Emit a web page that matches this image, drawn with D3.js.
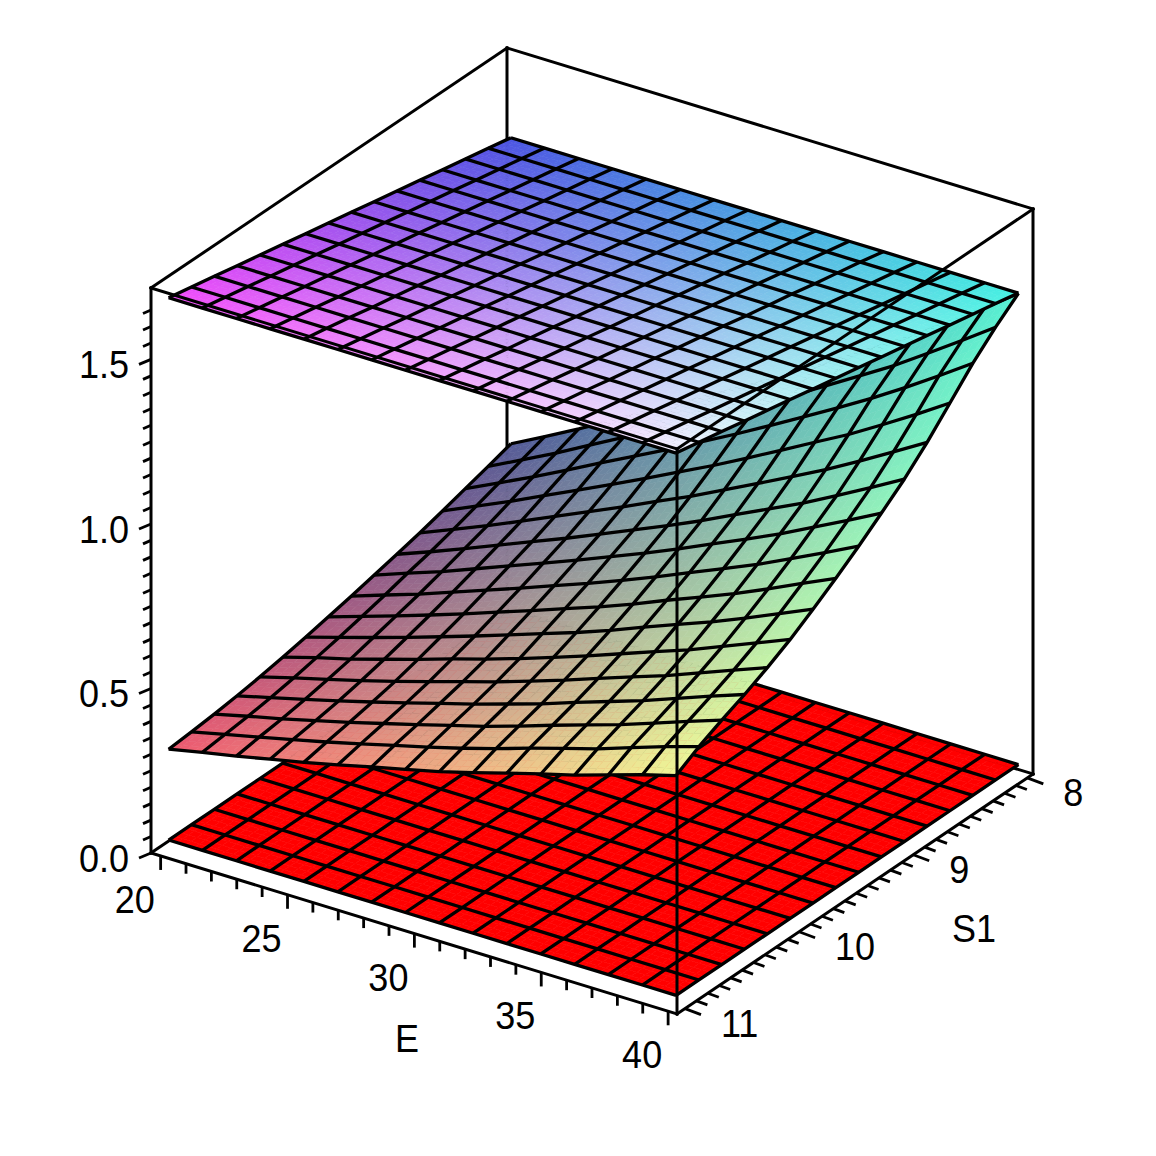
<!DOCTYPE html>
<html>
<head>
<meta charset="utf-8">
<script src="https://cdn.jsdelivr.net/npm/d3@7"></script>
<style>
  html, body { margin: 0; padding: 0; background: #fff; }
  text { font-family: "Liberation Sans", Arial, sans-serif; font-size: 36px; fill: #000; }
</style>
</head>
<body>
<svg id="chart" width="1156" height="1156"></svg>
<script>
// grid of the surfaces, 16 x 16 points
const gridE = [20, 21.33, 22.67, 24, 25.33, 26.67, 28, 29.33, 30.67, 32, 33.33, 34.67, 36, 37.33, 38.67, 40];
const gridS1 = [11, 10.8, 10.6, 10.4, 10.2, 10, 9.8, 9.6, 9.4, 9.2, 9, 8.8, 8.6, 8.4, 8.2, 8];

// bottom sheet, flat
const lowZ = [0.032];
// top sheet, only changes along S1
const highZ = [1.68, 1.666, 1.652, 1.637, 1.623, 1.609, 1.594, 1.58, 1.566, 1.551, 1.537, 1.523, 1.508, 1.494, 1.48, 1.465];
// middle sheet, one row per S1, one column per E
const midZ = [
  [.308, .330, .350, .372, .394, .418, .443, .467, .492, .520, .550, .579, .607, .639, .671, .700],
  [.314, .338, .361, .385, .409, .435, .462, .488, .516, .546, .579, .610, .640, .675, .710, .741],
  [.321, .346, .370, .396, .422, .450, .478, .507, .536, .568, .602, .635, .667, .703, .740, .775],
  [.330, .356, .382, .409, .437, .466, .496, .525, .557, .589, .625, .659, .693, .731, .770, .806],
  [.341, .369, .396, .424, .453, .484, .515, .546, .580, .614, .651, .687, .722, .762, .802, .841],
  [.354, .384, .411, .442, .473, .506, .537, .570, .605, .641, .679, .717, .754, .796, .838, .880],
  [.368, .399, .430, .462, .495, .529, .564, .599, .634, .672, .713, .753, .792, .835, .880, .925],
  [.383, .416, .449, .483, .518, .555, .591, .628, .665, .705, .748, .789, .831, .877, .925, .972],
  [.399, .434, .468, .506, .543, .581, .620, .658, .699, .741, .785, .829, .873, .922, .972, 1.023],
  [.416, .454, .490, .530, .570, .610, .651, .693, .735, .779, .826, .872, .919, .971, 1.023, 1.077],
  [.433, .472, .513, .555, .597, .639, .683, .727, .772, .818, .868, .917, .966, 1.020, 1.076, 1.133],
  [.451, .493, .536, .581, .627, .673, .719, .767, .814, .865, .916, .968, 1.021, 1.078, 1.138, 1.198],
  [.471, .517, .563, .612, .660, .709, .759, .810, .861, .915, .970, 1.026, 1.081, 1.142, 1.205, 1.271],
  [.492, .541, .591, .643, .696, .748, .800, .855, .910, .967, 1.025, 1.084, 1.144, 1.208, 1.276, 1.345],
  [.513, .564, .616, .672, .727, .782, .837, .894, .953, 1.012, 1.073, 1.135, 1.197, 1.266, 1.336, 1.408],
  [.535, .588, .643, .700, .758, .815, .873, .932, .992, 1.053, 1.117, 1.181, 1.246, 1.316, 1.389, 1.464]
];

// corner colours: [E=20 S1=11, E=40 S1=11, E=20 S1=8, E=40 S1=8]
const lowColors = ["#ff0000", "#ff0000", "#ff0000", "#ff0000"];
const midColors = ["#ee5a70", "#f0f596", "#555a96", "#55f0d2"];
const highColors = ["#f24dfa", "#f6f2ff", "#4b55e1", "#46f0e1"];

const eTickLabels = [20, 25, 30, 35, 40];
const s1TickLabels = [11, 10, 9, 8];
const zTickLabels = ["0.0", "0.5", "1.0", "1.5"];

// box seen in orthographic view
const ORIGIN = [151, 853];
const VEC_E = [526, 161];
const VEC_S = [356, -240];
const VEC_Z = [0, -565];
const LINE_W = 3.3;

const eScale = d3.scaleLinear().domain([19.62, 40.35]).range([0, 1]);
const sScale = d3.scaleLinear().domain([11.07, 7.95]).range([0, 1]);
const zScale = d3.scaleLinear().domain([0, 1.717]).range([0, 1]);

function boxPoint(a, b, c) {
  return [
    ORIGIN[0] + a * VEC_E[0] + b * VEC_S[0] + c * VEC_Z[0],
    ORIGIN[1] + a * VEC_E[1] + b * VEC_S[1] + c * VEC_Z[1]
  ];
}

function project(e, s, z) {
  return boxPoint(eScale(e), sScale(s), zScale(z));
}

const svg = d3.select("#chart");
const line = d3.line();

function drawEdges(edges) {
  svg.append("g")
    .attr("fill", "none")
    .attr("stroke", "#000")
    .attr("stroke-width", 3)
    .attr("stroke-linecap", "square")
    .selectAll("path")
    .data(edges)
    .join("path")
    .attr("d", d => line(d.map(p => boxPoint(p[0], p[1], p[2]))));
}

// one sheet: small filled pieces for the gradient, then the wire grid on top
function drawSheet(zAt, colors) {
  const SUB = 4;
  const n = gridE.length - 1;
  const colorLow = d3.interpolateRgb(colors[0], colors[1]);
  const colorHigh = d3.interpolateRgb(colors[2], colors[3]);
  const pieces = [];

  d3.range(n).forEach(j => {
    d3.range(n).forEach(i => {
      d3.range(SUB).forEach(sj => {
        d3.range(SUB).forEach(si => {
          const at = (a, b) => {
            const z = d3.interpolate(
              d3.interpolate(zAt(i, j), zAt(i + 1, j))(a),
              d3.interpolate(zAt(i, j + 1), zAt(i + 1, j + 1))(a)
            )(b);
            return project(
              d3.interpolate(gridE[i], gridE[i + 1])(a),
              d3.interpolate(gridS1[j], gridS1[j + 1])(b),
              z
            );
          };
          const a0 = si / SUB, a1 = (si + 1) / SUB, b0 = sj / SUB, b1 = (sj + 1) / SUB;
          const u = (i + (a0 + a1) / 2) / n;
          const v = (j + (b0 + b1) / 2) / n;
          pieces.push({
            points: [at(a0, b0), at(a1, b0), at(a1, b1), at(a0, b1)],
            color: d3.interpolateRgb(colorLow(u), colorHigh(u))(v)
          });
        });
      });
    });
  });

  const g = svg.append("g");
  g.append("g").selectAll("polygon")
    .data(pieces)
    .join("polygon")
    .attr("points", d => d.points.join(" "))
    .attr("fill", d => d.color)
    .attr("stroke", d => d.color)
    .attr("stroke-width", 0.6);

  const wires = [];
  d3.range(n + 1).forEach(k => {
    wires.push(d3.range(n + 1).map(i => project(gridE[i], gridS1[k], zAt(i, k))));
    wires.push(d3.range(n + 1).map(j => project(gridE[k], gridS1[j], zAt(k, j))));
  });
  g.append("g").selectAll("path")
    .data(wires)
    .join("path")
    .attr("d", line)
    .attr("fill", "none")
    .attr("stroke", "#000")
    .attr("stroke-width", LINE_W)
    .attr("stroke-linejoin", "round");
}

function drawTicks() {
  const ticks = [];
  // E: straight down
  d3.range(20, 41).forEach(e => {
    const p = boxPoint(eScale(e), 0, 0);
    const len = e % 5 === 0 ? 14 : 10;
    ticks.push([p, [p[0], p[1] + len]]);
  });
  // S1: along the E direction
  d3.range(80, 111).forEach(t => {
    const p = boxPoint(1, sScale(t / 10), 0);
    const big = t % 10 === 0;
    ticks.push([p, [p[0] + (big ? 16 : 11), p[1] + (big ? 6 : 4)]]);
  });
  // z: to the lower left
  d3.range(0, 34).forEach(t => {
    const p = boxPoint(0, 0, zScale(t * 0.05));
    const big = t % 10 === 0;
    ticks.push([p, [p[0] - (big ? 12 : 8), p[1] + (big ? 5 : 3.5)]]);
  });
  svg.append("g").selectAll("path")
    .data(ticks)
    .join("path")
    .attr("d", line)
    .attr("stroke", "#000")
    .attr("stroke-width", 2.8);
}

function drawLabels() {
  const labels = [];
  eTickLabels.forEach(e => {
    const p = boxPoint(eScale(e), 0, 0);
    labels.push({ t: e, x: p[0] - 26, y: p[1] + 57, anchor: "middle" });
  });
  s1TickLabels.forEach(s => {
    const p = boxPoint(1, sScale(s), 0);
    labels.push({ t: s, x: p[0] + 36, y: p[1] + 28, anchor: "start" });
  });
  zTickLabels.forEach(z => {
    const p = boxPoint(0, 0, zScale(+z));
    labels.push({ t: z, x: p[0] - 22, y: p[1] + 19, anchor: "end" });
  });
  labels.push({ t: "E", x: 407, y: 1052, anchor: "middle" });
  labels.push({ t: "S1", x: 974, y: 942, anchor: "middle" });

  // the original glyphs are a little taller than Liberation's
  svg.append("g").selectAll("text")
    .data(labels)
    .join("text")
    .attr("transform", d => `translate(${d.x},${d.y}) scale(1,1.07)`)
    .attr("text-anchor", d => d.anchor)
    .text(d => d.t);
}

// edges behind the sheets
drawEdges([
  [[0, 1, 0], [0, 1, 1]],
  [[0, 1, 0], [0, 0, 0]],
  [[0, 1, 0], [1, 1, 0]],
  [[0, 1, 1], [0, 0, 1]],
  [[0, 1, 1], [1, 1, 1]],
  [[0, 0, 0], [0, 0, 1]],
  [[1, 1, 0], [1, 1, 1]]
]);

drawSheet(() => lowZ[0], lowColors);
drawSheet((i, j) => midZ[j][i], midColors);
drawSheet((i, j) => highZ[j], highColors);

// edges in front of the sheets
drawEdges([
  [[0, 0, 0], [1, 0, 0]],
  [[1, 0, 0], [1, 1, 0]],
  [[0, 0, 1], [1, 0, 1]],
  [[1, 0, 1], [1, 1, 1]],
  [[1, 0, 0], [1, 0, 1]]
]);

drawTicks();
drawLabels();
</script>
</body>
</html>
